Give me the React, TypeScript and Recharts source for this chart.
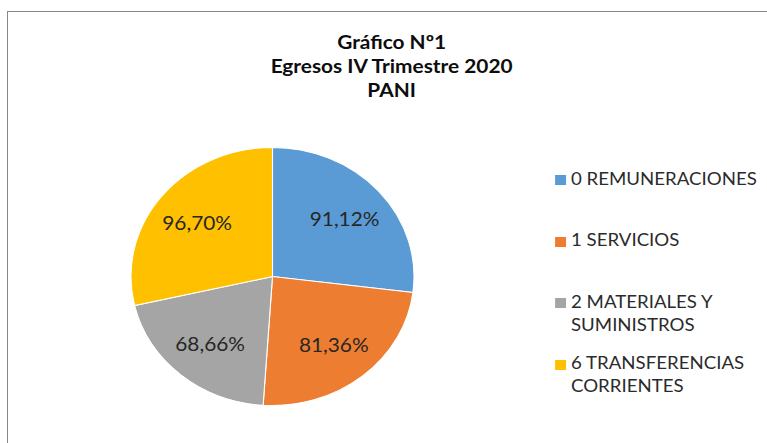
import { Legend, Pie, PieChart, Cell } from "recharts";

const categories = [
  "0 REMUNERACIONES",
  "1 SERVICIOS",
  "2 MATERIALES Y SUMINISTROS",
  "6 TRANSFERENCIAS CORRIENTES",
];
const percentages = [91.12, 81.36, 68.66, 96.7];
const sliceColors = ["#5B9BD5", "#ED7D31", "#A5A5A5", "#FFC000"];
const titleLines = ["Gráfico Nº1", "Egresos IV Trimestre 2020", "PANI"];

// the original picture is stretched sideways, so the whole chart is too
const STRETCH = 1.097;
const W = 767 / STRETCH;
const FONT = "Lato, 'Open Sans', sans-serif";

const fmt = (v: number) => v.toFixed(2).replace(".", ",") + "%";

const renderLabel = (props: any) => {
  const { cx, cy, midAngle, outerRadius, value } = props;
  const rad = Math.PI / 180;
  const r = outerRadius * 0.68;
  const x = cx + r * Math.cos(-midAngle * rad);
  const y = cy + r * Math.sin(-midAngle * rad);
  return (
    <text
      x={x}
      y={y}
      textAnchor="middle"
      dominantBaseline="central"
      fill="#262626"
      style={{ fontFamily: FONT, fontSize: 19 }}
    >
      {fmt(value)}
    </text>
  );
};

const LegendBox = (props: any) => {
  const { payload } = props;
  return (
    <div style={{ fontFamily: FONT }}>
      {payload?.map((entry: any, idx: number) => (
        <div key={idx} style={{ display: "flex", alignItems: "flex-start", height: 61.5 }}>
          <span
            style={{
              display: "inline-block",
              width: 10,
              height: 10,
              background: entry.color,
              marginTop: 8.5,
              marginRight: 4.5,
              flex: "none",
            }}
          />
          <span style={{ width: 176, fontSize: 17, lineHeight: "23px", color: "#2b2b2b" }}>
            {entry.value}
          </span>
        </div>
      ))}
    </div>
  );
};

export default function App() {
  const data = categories.map((name, idx) => ({ name, value: percentages[idx] }));

  return (
    <div
      style={{
        position: "absolute",
        left: 0,
        top: 0,
        width: 767,
        height: 443,
        overflow: "hidden",
        background: "#fff",
      }}
    >
      <div style={{ position: "absolute", left: 7, top: 11, right: 0, height: 1, background: "#888" }} />
      <div style={{ position: "absolute", left: 7, top: 11, bottom: 0, width: 1, background: "#888" }} />
      <div
        style={{
          position: "absolute",
          left: 0,
          top: 0,
          width: W,
          height: 443,
          transform: `scaleX(${STRETCH})`,
          transformOrigin: "0 0",
        }}
      >
        <div
          style={{
            position: "absolute",
            left: 357 - 160,
            top: 30,
            width: 320,
            textAlign: "center",
            fontFamily: FONT,
            fontWeight: "bold",
            fontSize: 19,
            lineHeight: "24px",
            color: "#0d0d0d",
          }}
        >
          {titleLines.map((t, i) => (
            <div key={i}>{t}</div>
          ))}
        </div>
        <PieChart width={W} height={443} margin={{ top: 0, right: 0, bottom: 0, left: 0 }}>
          <Pie
            data={data}
            dataKey="value"
            nameKey="name"
            cx={248.4}
            cy={276.5}
            outerRadius={129}
            startAngle={90}
            endAngle={-270}
            stroke="#fff"
            strokeWidth={1}
            label={renderLabel}
            labelLine={false}
            isAnimationActive={false}
          >
            {data.map((_, idx) => (
              <Cell key={idx} fill={sliceColors[idx]} />
            ))}
          </Pie>
          <Legend
            layout="vertical"
            align="right"
            verticalAlign="top"
            content={<LegendBox />}
            wrapperStyle={{ top: 166.5, left: 506, right: "auto", width: 192 }}
          />
        </PieChart>
      </div>
    </div>
  );
}
